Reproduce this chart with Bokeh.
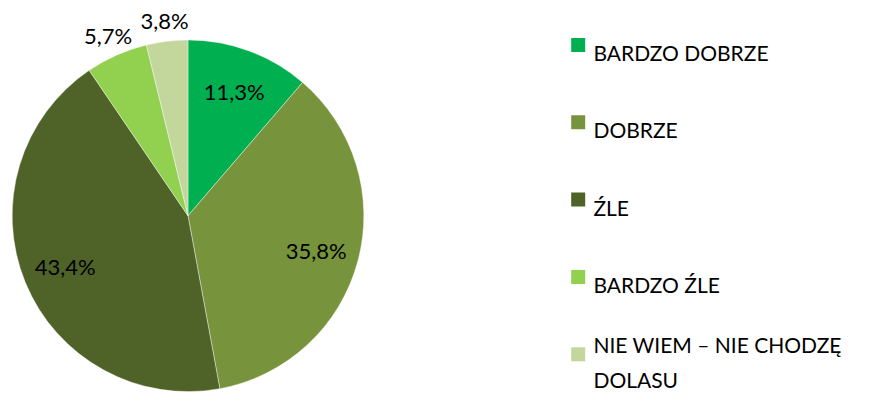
import math
from bokeh.plotting import figure
from bokeh.models import Range1d, ColumnDataSource
from bokeh.core.properties import value
from bokeh.embed import file_html
from bokeh.resources import INLINE

categories = ["BARDZO DOBRZE", "DOBRZE", "ŹLE", "BARDZO ŹLE", "NIE WIEM – NIE CHODZĘ\nDOLASU"]
values = [11.3, 35.8, 43.4, 5.7, 3.8]
colors = ["#00B050", "#77933C", "#4F6228", "#92D050", "#C3D69B"]

W, H = 856, 394
SX, SY = W / 872.0, H / 410.0          # fit the 872x410 layout into the canvas
R_PX = 182.0 * 0.966                    # pie radius in canvas pixels
CX, CY = 191.0 * SX, 224.0 * SY         # canvas coordinates of the pie centre


def X(px):
    return (px - CX) / R_PX


def Y(py):
    return (CY - py) / R_PX


p = figure(width=W, height=H, output_backend="svg", toolbar_location=None,
           x_range=Range1d(X(0), X(W)), y_range=Range1d(Y(H), Y(0)),
           min_border=0)
p.axis.visible = False
p.grid.visible = False
p.outline_line_color = None
p.background_fill_color = "white"
p.border_fill_color = "white"

total = sum(values)
starts, ends, mids = [], [], []
acc = 0.0
for v in values:
    a0 = math.pi / 2 - 2 * math.pi * acc / total
    acc += v
    a1 = math.pi / 2 - 2 * math.pi * acc / total
    starts.append(a0)
    ends.append(a1)
    mids.append((a0 + a1) / 2)

src = ColumnDataSource(dict(start=starts, end=ends, color=colors))
p.wedge(x=0, y=0, radius=1.0, start_angle="start", end_angle="end", direction="clock",
        fill_color="color", line_color="white", line_width=0.5, line_alpha=0.8,
        source=src)

# data labels
lx, ly, lt = [], [], []
for v, m in zip(values, mids):
    r = 0.755 if v >= 10 else 1.12
    lx.append(r * math.cos(m))
    ly.append(r * math.sin(m))
    lt.append(f"{v:.1f}".replace(".", ",") + "%")
p.text(x=lx, y=ly, text=lt, text_align="center", text_baseline="middle",
       text_font=value("Lato"), text_font_size="22px", text_color="#000000")

# legend
row0, step = 54.0, 80.5
sq = 14.0
for i, (c, lab) in enumerate(zip(colors, categories)):
    base = (row0 + i * step) * SY
    p.rect(x=[X(588.5 * SX)], y=[Y(base - 7.5)], width=sq / R_PX, height=sq / R_PX,
           fill_color=c, line_color=None)
    p.text(x=[X(604 * SX)], y=[Y(base)], text=[lab], text_align="left",
           text_baseline="alphabetic", text_font=value("Lato"),
           text_font_size="21px", text_color="#000000", text_line_height=1.4)

open("out.html", "w").write(file_html(p, INLINE))
